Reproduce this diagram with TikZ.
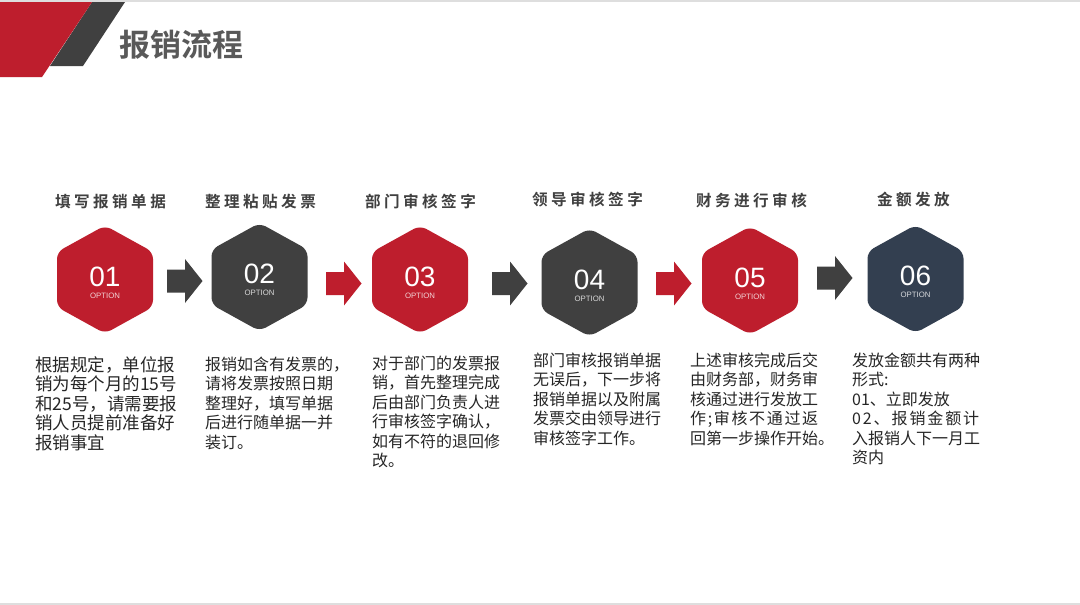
\documentclass[tikz,border=0pt]{standalone}
\usepackage{fontspec}
\setmainfont{Liberation Sans}
\newfontfamily\cjk{Noto Sans CJK SC}
\newfontfamily\cjkbold{Noto Sans CJK SC Bold}
\newfontfamily\cjkhead{Noto Sans CJK SC Bold}[LetterSpace=22]
\usetikzlibrary{calc}
\definecolor{brand}{HTML}{BE1E2D}
\definecolor{dgray}{HTML}{404040}
\definecolor{navy}{HTML}{333F50}
\definecolor{bodytext}{HTML}{262626}
\definecolor{titlegray}{HTML}{595959}
\definecolor{rulegray}{HTML}{DEDEDE}
\tikzset{
  pics/hexa/.style={code={
    \fill[#1,rounded corners=7pt] (0,-54) -- (48,-27.5) -- (48,27.5) -- (0,54)
      -- (-48,27.5) -- (-48,-27.5) -- cycle;}},
  pics/blockarrow/.style={code={
    \fill[#1] (-18,-11.5) -- (0,-11.5) -- (0,-22) -- (17.5,0) -- (0,22)
      -- (0,11.5) -- (-18,11.5) -- cycle;}},
  hexc/.style={inner sep=0pt, minimum size=0pt},
  num/.style={text=white, font=\fontsize{28}{28}\selectfont, inner sep=0pt},
  opt/.style={text=white, text opacity=0.8, font=\fontsize{7.8}{7.8}\selectfont, inner sep=0pt},
  steptitle/.style={text=dgray, font=\cjkhead\fontsize{15.6}{15.6}\selectfont, inner sep=0pt},
  body/.style={text=bodytext, font=\cjk\fontsize{16}{19.5}\selectfont, align=left, anchor=north west, inner sep=0pt},
}
\begin{document}
\begin{tikzpicture}[x=1pt,y=-1pt]
\useasboundingbox (0,0) rectangle (1080,605);
\fill[white] (0,0) rectangle (1080,605);
% rules
\fill[rulegray] (0,0) rectangle (1080,1.5);
\fill[rulegray] (0,603) rectangle (1080,605);
% header
\fill[dgray] (92,2) -- (125,2) -- (83,66) -- (50,66) -- cycle;
\fill[brand] (0,2) -- (92,2) -- (42,77) -- (0,77) -- cycle;
\node[text=titlegray, font=\cjkbold\fontsize{31}{31}\selectfont, inner sep=0pt] (title) at (181,45) {报销流程};

% hexagon centres
\node[hexc] (h1) at (105,279.5) {};
\node[hexc] (h2) at (259.5,277) {};
\node[hexc] (h3) at (420,279.5) {};
\node[hexc] (h4) at (589.5,282.5) {};
\node[hexc] (h5) at (750,280.5) {};
\node[hexc] (h6) at (915.5,279) {};

\pic at (h1) {hexa=brand};
\pic at (h2) {hexa=dgray};
\pic at (h3) {hexa=brand};
\pic at (h4) {hexa=dgray};
\pic at (h5) {hexa=brand};
\pic at (h6) {hexa=navy};

\node[num] (n1) at ($(h1)+(0,-3)$) {01};
\node[num] (n2) at ($(h2)+(0,-3)$) {02};
\node[num] (n3) at ($(h3)+(0,-3)$) {03};
\node[num] (n4) at ($(h4)+(0,-3)$) {04};
\node[num] (n5) at ($(h5)+(0,-3)$) {05};
\node[num] (n6) at ($(h6)+(0,-3)$) {06};

\node[opt] (o1) at ($(h1)+(0,16)$) {OPTION};
\node[opt] (o2) at ($(h2)+(0,16)$) {OPTION};
\node[opt] (o3) at ($(h3)+(0,16)$) {OPTION};
\node[opt] (o4) at ($(h4)+(0,16)$) {OPTION};
\node[opt] (o5) at ($(h5)+(0,16)$) {OPTION};
\node[opt] (o6) at ($(h6)+(0,16)$) {OPTION};

% block arrows between steps
\coordinate (a1) at (185,281);
\coordinate (a2) at (344,283.5);
\coordinate (a3) at (510,283.5);
\coordinate (a4) at (674,283.5);
\coordinate (a5) at (835,278);
\pic at (a1) {blockarrow=dgray};
\pic at (a2) {blockarrow=brand};
\pic at (a3) {blockarrow=dgray};
\pic at (a4) {blockarrow=brand};
\pic at (a5) {blockarrow=dgray};

% step titles
\node[steptitle] (t1) at (110.5,202) {填写报销单据};
\node[steptitle] (t2) at (260.5,202) {整理粘贴发票};
\node[steptitle] (t3) at (420.5,201) {部门审核签字};
\node[steptitle] (t4) at (587.5,200) {领导审核签字};
\node[steptitle] (t5) at (751.5,200) {财务进行审核};
\node[steptitle] (t6) at (913.5,200) {金额发放};

% descriptions
\node[body, font=\cjk\fontsize{17.5}{19.5}\selectfont] (b1) at (35,356) {根据规定，单位报\\销为每个月的15号\\和25号，请需要报\\销人员提前准备好\\报销事宜};
\node[body] (b2) at (205,356.5) {报销如含有发票的，\\请将发票按照日期\\整理好，填写单据\\后进行随单据一并\\装订。};
\node[body] (b3) at (372,355.5) {对于部门的发票报\\销，首先整理完成\\后由部门负责人进\\行审核签字确认，\\如有不符的退回修\\改。};
\node[body] (b4) at (533,352.5) {部门审核报销单据\\无误后，下一步将\\报销单据以及附属\\发票交由领导进行\\审核签字工作。};
\node[body] (b5) at (690,352.5) {上述审核完成后交\\由财务部，财务审\\核通过进行发放工\\\makebox[128pt][s]{作\hfill{};\hfill{}审\hfill{}核\hfill{}不\hfill{}通\hfill{}过\hfill{}返}\\回第一步操作开始。};
\node[body] (b6) at (852,352.5) {发放金额共有两种\\形式:\\01、立即发放\\\makebox[127pt][s]{0\hfill{}2\hfill{}、\hfill{}报\hfill{}销\hfill{}金\hfill{}额\hfill{}计}\\入报销人下一月工\\资内};
\end{tikzpicture}
\end{document}
